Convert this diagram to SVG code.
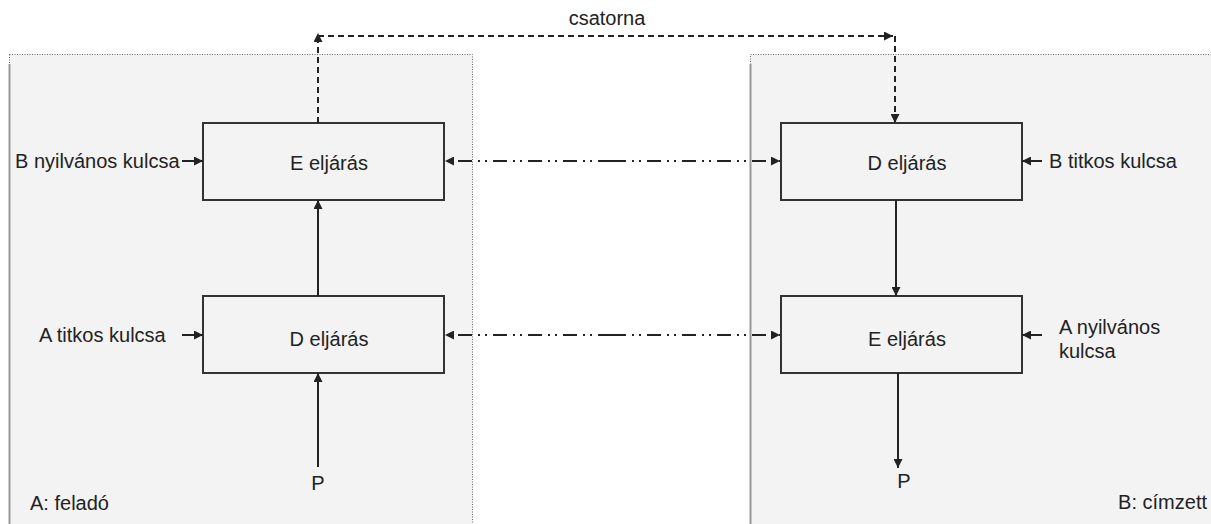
<svg xmlns="http://www.w3.org/2000/svg" width="1211" height="524" viewBox="0 0 1211 524">
<defs>
<marker id="ah" viewBox="0 0 10 10" refX="10" refY="5" markerWidth="9" markerHeight="9" markerUnits="userSpaceOnUse" orient="auto"><path d="M0,0 L10,5 L0,10 z" fill="#222"/></marker>
<style>
text{font-family:"Liberation Sans",Arial,sans-serif;font-size:20px;fill:#222}
.c{text-anchor:middle}
.box{fill:#f3f3f3;stroke:#333;stroke-width:2}
.ln{stroke:#222;stroke-width:2;fill:none}
.dash{stroke:#222;stroke-width:2;fill:none;stroke-dasharray:6 4}
.dd{stroke:#222;stroke-width:2;fill:none;stroke-dasharray:14 6 2 5 2 6}
.cont{fill:#f3f3f3;stroke:#666;stroke-width:1;stroke-dasharray:1 1.5}
</style>
</defs>
<rect width="1211" height="524" fill="#fff"/>
<g id="sender">
<rect class="cont" x="9.5" y="54.5" width="463" height="480"/>
<line x1="9.5" y1="64" x2="9.5" y2="524" stroke="#999" stroke-width="2"/>
<text x="30" y="510">A: feladó</text>
</g>
<g id="receiver">
<rect class="cont" x="750.5" y="54.5" width="480" height="480"/>
<line x1="750.5" y1="64" x2="750.5" y2="524" stroke="#999" stroke-width="2"/>
<text x="1207" y="509" text-anchor="end">B: címzett</text>
</g>
<g id="a-e"><rect class="box" x="203" y="123" width="241" height="77"/><text class="c" x="329" y="170">E eljárás</text></g>
<g id="a-d"><rect class="box" x="203" y="296" width="241" height="77"/><text class="c" x="329" y="346">D eljárás</text></g>
<g id="b-d"><rect class="box" x="781" y="123" width="241" height="77"/><text class="c" x="907" y="170">D eljárás</text></g>
<g id="b-e"><rect class="box" x="781" y="296" width="241" height="77"/><text class="c" x="907" y="346">E eljárás</text></g>
<g id="labels">
<text x="15" y="168">B nyilvános kulcsa</text>
<text x="39" y="342">A titkos kulcsa</text>
<text x="1049" y="168">B titkos kulcsa</text>
<text x="1059" y="334">A nyilvános</text>
<text x="1059" y="358">kulcsa</text>
<text class="c" x="318" y="490">P</text>
<text class="c" x="904" y="488">P</text>
<text class="c" x="607" y="25">csatorna</text>
</g>
<g id="connectors">
<line class="dash" x1="318" y1="123" x2="318" y2="33" marker-end="url(#ah)"/>
<line class="dash" x1="318" y1="36" x2="893" y2="36" marker-end="url(#ah)"/>
<path class="dash" d="M895,36 V123" marker-end="url(#ah)"/>
<line class="dd" x1="612" y1="161" x2="445" y2="161" marker-end="url(#ah)"/>
<line class="dd" x1="612" y1="161" x2="780" y2="161" marker-end="url(#ah)"/>
<line class="dd" x1="612" y1="335" x2="445" y2="335" marker-end="url(#ah)"/>
<line class="dd" x1="612" y1="335" x2="780" y2="335" marker-end="url(#ah)"/>
<line class="ln" x1="182" y1="161" x2="203" y2="161" marker-end="url(#ah)"/>
<line class="ln" x1="182" y1="335" x2="203" y2="335" marker-end="url(#ah)"/>
<line class="ln" x1="1042" y1="161" x2="1022" y2="161" marker-end="url(#ah)"/>
<line class="ln" x1="1042" y1="335" x2="1022" y2="335" marker-end="url(#ah)"/>
<line class="ln" x1="318" y1="296" x2="318" y2="200" marker-end="url(#ah)"/>
<line class="ln" x1="318" y1="467" x2="318" y2="373" marker-end="url(#ah)"/>
<line class="ln" x1="896" y1="200" x2="896" y2="296" marker-end="url(#ah)"/>
<line class="ln" x1="898" y1="373" x2="898" y2="468" marker-end="url(#ah)"/>
</g>
</svg>
